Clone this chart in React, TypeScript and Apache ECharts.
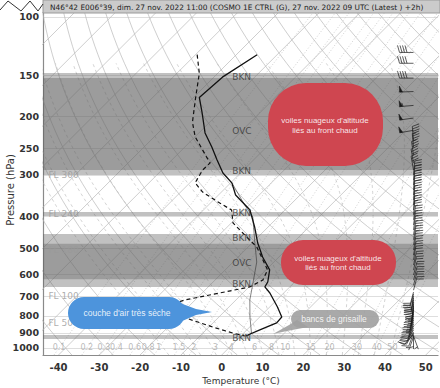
import React, { useEffect, useRef } from 'react';
import * as echarts from 'echarts';

// ---------- data ----------
const pressureTicks = [100, 150, 200, 250, 300, 400, 500, 600, 700, 800, 900, 1000];
const tempTicks = [-40, -30, -20, -10, 0, 10, 20, 30, 40, 50];

// temperature profile (hPa, °C)
const tempP = [130, 152, 175, 195, 224, 247, 270, 296, 317, 345, 383, 431, 482, 531, 581, 632, 654, 682, 752, 806, 840, 882, 920];
const tempT = [-64.9, -67.9, -68.6, -64.1, -58.5, -53.4, -49.0, -44.3, -39.7, -35.8, -28.6, -23.3, -18.6, -14.0, -9.1, -6.6, -6.1, -3.4, 1.9, 5.4, 5.6, 3.2, 1.2];

// dew point profile (hPa, °C)
const dewP = [130, 148, 175, 208, 230, 265, 276, 290, 317, 338, 365, 383, 419, 472, 495, 542, 581, 623, 654, 682, 716, 757, 806, 864, 901, 920];
const dewT = [-79.6, -74.5, -69.5, -64.2, -60.0, -52.2, -49.9, -50.0, -48.7, -44.6, -37.7, -33.1, -29.6, -21.3, -17.9, -13.2, -9.6, -8.3, -9.8, -15.7, -22.5, -26.7, -18.9, -9.1, -2.7, 1.0];

// thin profile
const thinP = [317, 370, 402, 482, 550, 636, 716, 806, 901, 920];
const thinT = [-39.7, -31.1, -26.2, -19.3, -14.2, -10.0, -6.6, -2.4, 1.9, 1.7];

// wind (hPa, direction °, speed kt)
const windP = [128, 138, 153, 168, 185, 202, 220, 236, 248, 262, 276, 290,
  300, 311, 322, 333, 345, 357, 370, 383, 396, 410, 425, 440, 455, 471, 488, 506, 524, 542, 562, 582, 602, 624, 646, 669,
  678, 687, 697, 706, 716, 726, 737, 747, 757, 768, 779, 790, 801, 812, 823, 835, 846, 858, 870, 882, 895,
  901, 907, 914, 920, 926];
const windDir = [270, 270, 270, 268, 265, 262, 260, 355, 355, 352, 350, 350,
  5, 5, 5, 5, 5, 5, 5, 5, 5, 8, 8, 8, 10, 10, 10, 10, 10, 10, 12, 12, 15, 15, 15, 15,
  195, 195, 190, 190, 190, 185, 185, 185, 190, 190, 190, 195, 195, 195, 200, 200, 200, 205, 205, 210, 210,
  200, 220, 180, 160, 200];
const windSpd = [40, 40, 40, 50, 55, 50, 50, 35, 35, 30, 30, 30,
  30, 30, 30, 30, 25, 25, 25, 25, 25, 25, 25, 25, 25, 25, 20, 20, 20, 20, 20, 20, 20, 20, 20, 20,
  20, 20, 20, 20, 20, 20, 20, 20, 15, 15, 15, 15, 15, 15, 15, 15, 10, 10, 10, 10, 10,
  10, 10, 5, 5, 5];

const cloudP = [152, 221, 292, 391, 465, 553, 641, 932];
const cloudText = ['BKN', 'OVC', 'BKN', 'BKN', 'BKN', 'OVC', 'BKN', 'BKN'];

const flP = [300, 393, 506, 697, 843];
const flText = ['FL 300', 'FL 240', 'FL 180', 'FL 100', 'FL 50'];

const mixRatios = [0.1, 0.2, 0.3, 0.4, 0.6, 0.8, 1, 1.5, 2, 3, 4, 6, 8, 10, 15, 20, 30, 40, 50];

const bandsOuter = [[147.6, 300.2], [388.4, 399.5], [452.4, 654.5], [913.6, 939.2]];
const bandsInner = [[152.9, 290.1], [484.4, 619.6]];

const titleText = 'N46°42 E006°39, dim. 27 nov. 2022 11:00 (COSMO 1E CTRL (G), 27 nov. 2022 09 UTC (Latest ) +2h)';

// ---------- diagram geometry ----------
const X_MIN = -43.8;
const X_MAX = 53;
const P_TOP = 96.6;
const P_BOT = 1050;
const K = 81.1; // skew (°C per decade of pressure)
const X_STATION = 47;
const lg = Math.log10;
const skewX = (T: number, p: number) => T + K * lg(P_BOT / p);

const Rd = 287.04, cp = 1005.7, Lv = 2.501e6;
const es = (Tc: number) => 6.112 * Math.exp((17.67 * Tc) / (Tc + 243.5));
const moistRate = (T: number, p: number) => {
  const e = es(T - 273.15);
  const rs = (0.622 * e) / (p - e);
  return (Rd * T + Lv * rs) / (cp + (Lv * Lv * rs * 0.622) / (Rd * T * T));
};

function pList(n: number) {
  const out: number[] = [];
  for (let i = 0; i <= n; i++) out.push(P_BOT * Math.pow(P_TOP / P_BOT, i / n));
  return out;
}

function buildGrid() {
  const solid: any[] = [];
  for (let T = -130; T <= 50; T += 10) {
    solid.push({ coords: [[skewX(T, P_BOT), lg(P_BOT)], [skewX(T, P_TOP), lg(P_TOP)]] });
  }
  const ps = pList(40);
  for (let th = -40; th <= 200; th += 10) {
    const thK = th + 273.15;
    solid.push({ coords: ps.map((p) => [skewX(thK * Math.pow(p / 1000, 0.2857) - 273.15, p), lg(p)]) });
  }
  const moist: any[] = [];
  for (let T0 = -16; T0 <= 40; T0 += 4) {
    const pts: number[][] = [];
    const T0K = T0 + 273.15;
    const Tb = T0K + moistRate(T0K, 1000) * Math.log(P_BOT / 1000);
    pts.push([skewX(Tb - 273.15, P_BOT), lg(P_BOT)]);
    pts.push([skewX(T0, 1000), lg(1000)]);
    let T = T0K;
    let lnp = Math.log(1000);
    const dl = -0.02;
    let k = 0;
    while (Math.exp(lnp) > 140) {
      const g = moistRate(T, Math.exp(lnp));
      const Tm = T + (g * dl) / 2;
      const gm = moistRate(Tm, Math.exp(lnp + dl / 2));
      T += gm * dl;
      lnp += dl;
      k++;
      if (k % 3 === 0) pts.push([skewX(T - 273.15, Math.exp(lnp)), lnp / Math.LN10]);
    }
    moist.push({ coords: pts });
  }
  const mix: any[] = [];
  const mps = pList(20);
  const tdOf = (w: number, p: number) => {
    const e = (w * p) / (622 + w);
    const a = Math.log(e / 6.112);
    return (243.5 * a) / (17.67 - a);
  };
  for (const w of mixRatios) {
    mix.push({ coords: mps.map((p) => [skewX(tdOf(w, p), p), lg(p)]) });
  }
  const mixLabels = mixRatios.map((w) => [skewX(tdOf(w, 1000), 1000), lg(1000)]);
  return { solid, moist, mix, mixLabels };
}

export default function App() {
  const ref = useRef<HTMLDivElement>(null);
  useEffect(() => {
    const chart = echarts.init(ref.current!, null, { renderer: 'svg' });
    const g = buildGrid();
    const profile = (P: number[], T: number[]) => P.map((p, i) => [skewX(T[i], p), lg(p)]);

    const bandSeries = (bands: number[][]) => ({
      type: 'custom',
      silent: true,
      z: 2,
      data: bands.map((b) => [lg(b[0]), lg(b[1])]),
      renderItem: (params: any, api: any) => {
        const a = api.coord([X_MIN, api.value(0)]);
        const b = api.coord([X_MAX, api.value(1)]);
        return {
          type: 'rect',
          shape: { x: a[0], y: a[1], width: b[0] - a[0], height: b[1] - a[1] },
          style: { fill: 'rgba(100,100,100,0.4)' },
        };
      },
    });

    const labelSeries = (x: number, P: number[], texts: string[], color: string, size: number) => ({
      type: 'scatter',
      silent: true,
      z: 6,
      symbolSize: 1,
      itemStyle: { color: 'rgba(0,0,0,0)' },
      data: P.map((p) => [x, lg(p)]),
      label: {
        show: true,
        position: 'right',
        distance: 0,
        color,
        fontSize: size,
        fontFamily: 'DejaVu Sans',
        formatter: (pr: any) => texts[pr.dataIndex],
      },
    });

    const stroke = '#1a1a1a';
    const barbSeries = {
      type: 'custom',
      silent: true,
      z: 4,
      data: windP.map((p, i) => [X_STATION, lg(p), windDir[i], windSpd[i]]),
      renderItem: (params: any, api: any) => {
        const S = api.coord([api.value(0), api.value(1)]);
        const d = (api.value(2) * Math.PI) / 180;
        const s = api.value(3);
        const u = [Math.sin(d), -Math.cos(d)];
        const side = [Math.cos(d), Math.sin(d)];
        const L = 14;
        const P = (t: number) => [S[0] + u[0] * t, S[1] + u[1] * t];
        const children: any[] = [];
        const end = P(L);
        children.push({ type: 'line', shape: { x1: S[0], y1: S[1], x2: end[0], y2: end[1] }, style: { stroke, lineWidth: 0.7 } });
        let rem = Math.round(s / 5) * 5;
        let t = L;
        while (rem >= 50) {
          const a = P(t);
          const b = P(t - 3);
          const tip = [a[0] + side[0] * 6, a[1] + side[1] * 6];
          children.push({ type: 'polygon', shape: { points: [a, tip, b] }, style: { fill: stroke, stroke, lineWidth: 0.5 } });
          t -= 3.5;
          rem -= 50;
        }
        while (rem >= 10) {
          const a = P(t);
          children.push({ type: 'line', shape: { x1: a[0], y1: a[1], x2: a[0] + side[0] * 7 + u[0] * 2, y2: a[1] + side[1] * 7 + u[1] * 2 }, style: { stroke, lineWidth: 0.7 } });
          t -= 2.5;
          rem -= 10;
        }
        if (rem >= 5) {
          if (t === L) t -= 2.5;
          const a = P(t);
          children.push({ type: 'line', shape: { x1: a[0], y1: a[1], x2: a[0] + side[0] * 3.5 + u[0] * 1, y2: a[1] + side[1] * 3.5 + u[1] * 1 }, style: { stroke, lineWidth: 0.7 } });
        }
        return { type: 'group', children };
      },
    };

    const textStyleBase = (text: string, size: number, fill: string, family = 'Liberation Sans') => ({
      text,
      font: `${size}px "${family}"`,
      fill,
      align: 'center',
      verticalAlign: 'middle',
      textAlign: 'center',
      textVerticalAlign: 'middle',
    });
    const bubbleText = 'rgba(255,255,255,0.88)';
    const red = '#cf4650';
    const blue = '#4d94dc';
    const grey = 'rgba(160,160,160,0.9)';

    const graphic = [
      { type: 'rect', z: 100, shape: { x: 268, y: 83, width: 115, height: 83, r: 38 }, style: { fill: red } },
      { type: 'text', z: 101, x: 325, y: 120.5, style: textStyleBase("voiles nuageux d'altitude", 8, bubbleText) },
      { type: 'text', z: 101, x: 325, y: 130.5, style: textStyleBase('liés au front chaud', 8, bubbleText) },
      { type: 'rect', z: 100, shape: { x: 281, y: 240, width: 115, height: 45, r: 22 }, style: { fill: red } },
      { type: 'text', z: 101, x: 338, y: 258.3, style: textStyleBase("voiles nuageux d'altitude", 8, bubbleText) },
      { type: 'text', z: 101, x: 338, y: 267.7, style: textStyleBase('liés au front chaud', 8, bubbleText) },
      { type: 'rect', z: 100, shape: { x: 68, y: 297, width: 117, height: 32, r: 16 }, style: { fill: blue } },
      { type: 'polygon', z: 100, shape: { points: [[180, 303], [196, 309], [212, 312], [196, 315], [180, 322]] }, style: { fill: blue } },
      { type: 'text', z: 101, x: 127, y: 313, style: textStyleBase("couche d'air très sèche", 8.5, bubbleText) },
      { type: 'rect', z: 100, shape: { x: 291, y: 310, width: 88, height: 18, r: 9 }, style: { fill: grey } },
      { type: 'polygon', z: 100, shape: { points: [[297, 320], [308, 327], [287, 331], [273, 334], [289, 325]] }, style: { fill: grey } },
      { type: 'text', z: 101, x: 334, y: 319.3, style: textStyleBase('bancs de grisaille', 8.5, bubbleText) },
      { type: 'rect', z: 102, shape: { x: 43, y: 0, width: 397, height: 13 }, style: { fill: '#cbcbcb', stroke: '#9a9a9a', lineWidth: 1 } },
      { type: 'text', z: 103, x: 50, y: 7, style: { text: titleText, font: '7.4px "DejaVu Sans"', fill: '#222', verticalAlign: 'middle', textVerticalAlign: 'middle' } },
      { type: 'polyline', z: 103, shape: { points: [[0, 10], [8, 1], [21, 11], [30, 1], [38, 11], [43, 4]] }, style: { stroke: '#333', lineWidth: 1, fill: 'none' } },
      { type: 'text', z: 103, x: 10, y: 190, rotation: Math.PI / 2, style: textStyleBase('Pressure (hPa)', 10, '#333', 'DejaVu Sans') },
      { type: 'text', z: 103, x: 241, y: 381, style: textStyleBase('Temperature (°C)', 9, '#333', 'DejaVu Sans') },
    ];

    const option: any = {
      animation: false,
      backgroundColor: '#ffffff',
      textStyle: { fontFamily: 'DejaVu Sans' },
      grid: { left: 43, right: 2, top: 12, bottom: 33, containLabel: false },
      xAxis: {
        type: 'value',
        min: X_MIN,
        max: X_MAX,
        axisLine: { show: true, onZero: false, lineStyle: { color: '#8a8a8a', width: 1.2 } },
        axisTick: { show: false },
        splitLine: { show: false },
        axisLabel: { customValues: tempTicks, fontWeight: 'bold', fontSize: 10, color: '#333', margin: 7, fontFamily: 'DejaVu Sans' },
      },
      yAxis: {
        type: 'value',
        inverse: true,
        min: lg(P_TOP),
        max: lg(P_BOT),
        axisLine: { show: true, onZero: false, lineStyle: { color: '#8a8a8a', width: 1.2 } },
        axisTick: { show: false, customValues: pressureTicks.map(lg) },
        splitLine: { show: true, lineStyle: { color: '#d6d6d6', width: 0.8 } },
        axisLabel: {
          customValues: pressureTicks.map(lg),
          formatter: (v: number) => String(Math.round(Math.pow(10, v))),
          fontWeight: 'bold',
          fontSize: 9.5,
          color: '#333',
          margin: 4,
          fontFamily: 'DejaVu Sans',
        },
      },
      series: [
        { type: 'lines', coordinateSystem: 'cartesian2d', polyline: true, silent: true, z: 1, clip: true, data: g.solid, lineStyle: { color: '#b9b9b9', width: 0.7, opacity: 1, type: 'solid' } },
        { type: 'lines', coordinateSystem: 'cartesian2d', polyline: true, silent: true, z: 1, clip: true, data: g.moist, lineStyle: { color: '#c2c2c2', width: 0.7, opacity: 1, type: [3, 3] } },
        { type: 'lines', coordinateSystem: 'cartesian2d', polyline: true, silent: true, z: 1, clip: true, data: g.mix, lineStyle: { color: '#bcbcbc', width: 0.7, opacity: 1, type: [1, 2] } },
        bandSeries(bandsOuter),
        bandSeries(bandsInner),
        { type: 'line', z: 5, silent: true, symbol: 'none', data: profile(thinP, thinT), lineStyle: { color: '#333', width: 0.6 } },
        { type: 'line', z: 5, silent: true, symbol: 'none', data: profile(tempP, tempT), lineStyle: { color: '#111', width: 1.3 } },
        { type: 'line', z: 5, silent: true, symbol: 'none', data: profile(dewP, dewT), lineStyle: { color: '#111', width: 1.2, type: [4, 3] } },
        barbSeries,
        labelSeries(2.45, cloudP, cloudText, '#333', 9),
        labelSeries(-42.6, flP, flText, '#999', 9),
        {
          type: 'scatter',
          silent: true,
          z: 6,
          symbolSize: 1,
          itemStyle: { color: 'rgba(0,0,0,0)' },
          data: g.mixLabels,
          label: {
            show: true,
            position: 'inside',
            color: '#a8a8a8',
            fontSize: 8,
            fontFamily: 'DejaVu Sans',
            formatter: (pr: any) => String(mixRatios[pr.dataIndex]),
          },
        },
      ],
      graphic,
    };
    chart.setOption(option);
    return () => chart.dispose();
  }, []);
  return <div ref={ref} style={{ position: 'fixed', left: 0, top: 0, width: 440, height: 388, background: '#fff' }} />;
}
